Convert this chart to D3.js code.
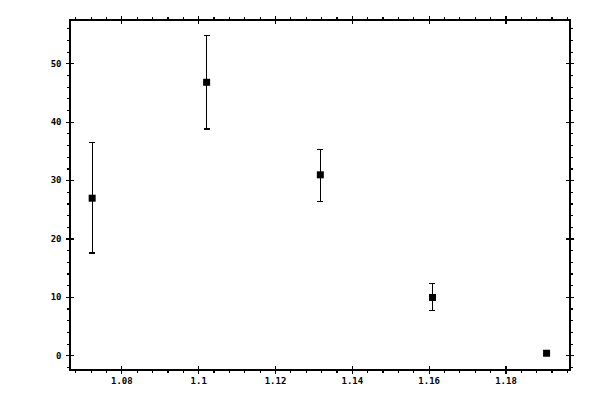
<!DOCTYPE html>
<html>
<head>
<meta charset="utf-8">
<script src="https://cdn.jsdelivr.net/npm/d3@7"></script>
<style>
body { margin: 0; background: #fff; }
.axis text { font-family: "DejaVu Sans Mono", monospace; font-size: 9px; font-weight: bold; fill: #000; }
.axis path, .axis line { stroke: #000; stroke-width: 1.2; shape-rendering: crispEdges; }
</style>
</head>
<body>
<svg id="chart"></svg>
<script>
// data
var xValues = [1.0724, 1.1022, 1.1318, 1.1610, 1.1907];
var yValues = [26.9, 46.75, 30.9, 9.9, 0.35];
var yLow = [17.5, 38.75, 26.4, 7.7, 0.35];
var yHigh = [36.5, 54.8, 35.3, 12.3, 0.35];
var xTicks = [1.08, 1.1, 1.12, 1.14, 1.16, 1.18];
var yTicks = [0, 10, 20, 30, 40, 50];

var screen = {width: 600, height: 400};
var margins = {left: 69.5, right: 30, top: 19.5, bottom: 30};
var graph = {
    width: screen.width - margins.left - margins.right,
    height: screen.height - margins.top - margins.bottom
};

var svg = d3.select("#chart")
    .attr("width", screen.width)
    .attr("height", screen.height);

var xScale = d3.scaleLinear()
    .domain([1.0665, 1.1968])
    .range([0, graph.width]);
var yScale = d3.scaleLinear()
    .domain([-2.52, 57.5])
    .range([graph.height, 0]);

var xMinor = d3.range(1.068, 1.197, 0.004).filter(function(v) {
    return !xTicks.some(function(t) { return Math.abs(t - v) < 1e-6; });
});
var yMinor = d3.range(-2, 57.5, 2).filter(function(v) { return v % 10 !== 0; });

var plot = svg.append("g")
    .attr("transform", "translate(" + margins.left + "," + margins.top + ")");

// axes: minor ticks outward, major ticks crossing the frame
var addAxis = function(axisFn, scale, transform, ticks, size, labels) {
    var a = axisFn(scale).tickValues(ticks).tickSizeInner(size).tickSizeOuter(0);
    if (labels) {
        a.tickFormat(labels).tickPadding(4);
    } else {
        a.tickFormat("");
    }
    var g = plot.append("g").attr("class", "axis").attr("transform", transform).call(a);
    if (!labels) g.select(".domain").remove();
    return g;
};

var fmt = function(d) { return d3.format("")(+d.toFixed(2)); };

addAxis(d3.axisBottom, xScale, "translate(0," + graph.height + ")", xTicks, 4, fmt);
addAxis(d3.axisBottom, xScale, "translate(0," + graph.height + ")", xTicks, -4, null);
addAxis(d3.axisBottom, xScale, "translate(0," + graph.height + ")", xMinor, 3, null);
addAxis(d3.axisTop, xScale, "translate(0,0)", xTicks, 4, function() { return ""; });
addAxis(d3.axisTop, xScale, "translate(0,0)", xTicks, -4, null);
addAxis(d3.axisTop, xScale, "translate(0,0)", xMinor, 3, null);

addAxis(d3.axisLeft, yScale, "translate(0,0)", yTicks, 4, d3.format("d"));
addAxis(d3.axisLeft, yScale, "translate(0,0)", yTicks, -4, null);
addAxis(d3.axisLeft, yScale, "translate(0,0)", yMinor, 3, null);
addAxis(d3.axisRight, yScale, "translate(" + graph.width + ",0)", yTicks, 4, function() { return ""; });
addAxis(d3.axisRight, yScale, "translate(" + graph.width + ",0)", yTicks, -4, null);
addAxis(d3.axisRight, yScale, "translate(" + graph.width + ",0)", yMinor, 3, null);

// full frame
plot.append("rect")
    .attr("width", graph.width)
    .attr("height", graph.height)
    .attr("fill", "none")
    .attr("stroke", "#000")
    .attr("stroke-width", 1.2)
    .attr("shape-rendering", "crispEdges");

var points = xValues.map(function(x, i) {
    return {x: x, y: yValues[i], lo: yLow[i], hi: yHigh[i]};
});
var bars = points.filter(function(p) { return p.hi - p.lo > 0.5; });

var eb = plot.append("g").attr("stroke", "#000").attr("stroke-width", 1.2)
    .attr("shape-rendering", "crispEdges");
eb.selectAll(".stem").data(bars).enter().append("line")
    .attr("x1", function(p) { return xScale(p.x); })
    .attr("x2", function(p) { return xScale(p.x); })
    .attr("y1", function(p) { return yScale(p.lo); })
    .attr("y2", function(p) { return yScale(p.hi); });
eb.selectAll(".capHi").data(bars).enter().append("line")
    .attr("x1", function(p) { return xScale(p.x) - 3; })
    .attr("x2", function(p) { return xScale(p.x) + 3; })
    .attr("y1", function(p) { return yScale(p.hi); })
    .attr("y2", function(p) { return yScale(p.hi); });
eb.selectAll(".capLo").data(bars).enter().append("line")
    .attr("x1", function(p) { return xScale(p.x) - 3; })
    .attr("x2", function(p) { return xScale(p.x) + 3; })
    .attr("y1", function(p) { return yScale(p.lo); })
    .attr("y2", function(p) { return yScale(p.lo); });

plot.selectAll(".mark").data(points).enter().append("rect")
    .attr("x", function(p) { return xScale(p.x) - 3.5; })
    .attr("y", function(p) { return yScale(p.y) - 3.5; })
    .attr("width", 7)
    .attr("height", 7)
    .attr("fill", "#000");
</script>
</body>
</html>
